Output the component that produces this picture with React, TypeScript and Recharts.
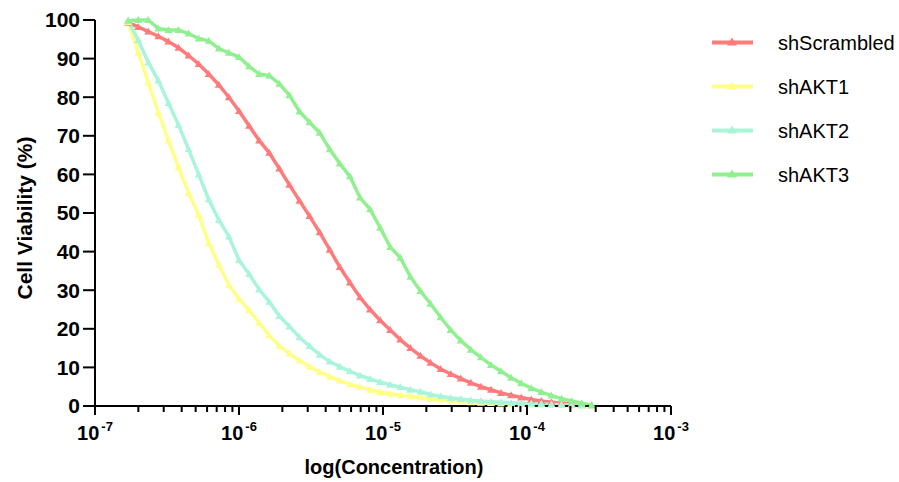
import React from 'react';
import { LineChart, Line, XAxis, YAxis } from 'recharts';

// log10(concentration, M)
const LOG_CONC = [
  -6.77, -6.70, -6.63, -6.56, -6.49, -6.42, -6.35, -6.28, -6.21, -6.14,
  -6.07, -6.00, -5.93, -5.86, -5.79, -5.72, -5.65, -5.58, -5.51, -5.44,
  -5.37, -5.30, -5.23, -5.16, -5.09, -5.02, -4.95, -4.88, -4.81, -4.74,
  -4.67, -4.60, -4.53, -4.46, -4.39, -4.32, -4.25, -4.18, -4.11, -4.04,
  -3.97, -3.90, -3.83, -3.76, -3.69, -3.62, -3.55,
];

const SH_SCRAMBLED = [
  99.3, 98.2, 97.0, 95.8, 94.4, 92.8, 90.8, 88.6, 86.0, 83.2,
  80.0, 76.4, 72.6, 68.8, 65.6, 61.5, 57.3, 53.2, 49.2, 45.0,
  40.5, 36.0, 32.0, 28.2, 25.0, 22.2, 19.7, 17.2, 15.0, 13.0,
  11.2, 9.6, 8.3, 7.1, 6.0, 5.0, 4.2, 3.4, 2.8, 2.2,
  1.7, 1.3, 1.0, 0.7, 0.5, 0.3, 0.1,
];

const SH_AKT1 = [
  99.5, 91.5, 83.8, 76.0, 68.8, 61.8, 55.2, 49.5, 42.2, 36.6,
  31.3, 27.8, 24.8, 21.5, 18.3, 15.6, 13.6, 11.8, 10.2, 8.8,
  7.6, 6.6, 5.6, 4.9, 4.2, 3.6, 3.2, 2.8, 2.5, 2.2,
  1.9, 1.6, 1.4, 1.2, 1.0, 0.85, 0.75, 0.65, 0.55, 0.45,
  0.38, 0.3, 0.25, 0.2, 0.15, 0.1, 0.05,
];

const SH_AKT2 = [
  99.8, 94.8, 89.0, 84.3, 78.5, 72.8, 66.5, 60.0, 53.5, 48.2,
  43.9, 37.8, 34.2, 30.2, 27.0, 23.3, 20.6, 17.8, 15.5, 13.3,
  11.5, 10.2, 9.0, 7.9, 7.0, 6.2, 5.5, 4.9, 4.2, 3.7,
  3.0, 2.5, 2.1, 1.8, 1.5, 1.3, 1.1, 0.95, 0.8, 0.7,
  0.6, 0.5, 0.4, 0.3, 0.2, 0.15, 0.1,
];

const SH_AKT3 = [
  99.8, 100, 100, 97.8, 97.4, 97.4, 96.5, 95.2, 94.6, 92.6,
  91.5, 90.4, 88.0, 86.0, 85.6, 83.5, 80.5, 76.3, 73.5, 70.8,
  66.5, 62.8, 59.5, 54.0, 51.0, 46.2, 41.2, 38.4, 33.5, 29.8,
  26.5, 23.0, 19.7, 17.0, 14.6, 12.6, 10.6, 9.0, 7.3, 5.9,
  4.6, 3.6, 2.7, 1.9, 1.3, 0.7, 0.2,
];

const SERIES = [
  { key: 'shScrambled', values: SH_SCRAMBLED, color: '#FF7B7B' },
  { key: 'shAKT1', values: SH_AKT1, color: '#FFFF88' },
  { key: 'shAKT2', values: SH_AKT2, color: '#AAF5DA' },
  { key: 'shAKT3', values: SH_AKT3, color: '#90F090' },
];

const Y_TICKS = [0, 10, 20, 30, 40, 50, 60, 70, 80, 90, 100];
const X_MAJOR = [-7, -6, -5, -4, -3];
const MINOR_STEPS = [2, 3, 4, 5, 6, 7, 8, 9];

const X_TICKS = [
  ...X_MAJOR,
  ...X_MAJOR.slice(0, -1).flatMap(n => MINOR_STEPS.map(k => n + Math.log10(k))),
].sort((a, b) => a - b);

const data = LOG_CONC.map((x, i) => {
  const row: any = { x };
  SERIES.forEach(s => { row[s.key] = s.values[i]; });
  return row;
});

const FONT = '"Liberation Sans", Arial, sans-serif';

const XTick = (props: any) => {
  const { x, y, payload } = props;
  const v = payload.value;
  const major = X_MAJOR.includes(v);
  return (
    <g>
      <line x1={x} x2={x} y1={y} y2={y + (major ? 9 : 6)} stroke="#000" strokeWidth={2} />
      {major && (
        <text x={x} y={y + 34} textAnchor="middle" fontFamily={FONT} fontWeight="bold" fontSize={20} fill="#000">
          10
          <tspan dx={2} dy={-9} fontSize={13}>{String(v)}</tspan>
        </text>
      )}
    </g>
  );
};

const triangle = (color: string) => (props: any) => {
  const { cx, cy, index } = props;
  if (cx == null || cy == null) return <g key={`n-${index}`} />;
  return (
    <polygon
      key={`t-${color}-${index}`}
      points={`${cx},${cy - 4} ${cx - 4},${cy + 3} ${cx + 4},${cy + 3}`}
      fill={color}
    />
  );
};

const YTitle = (props: any) => {
  const { viewBox } = props;
  const cx = viewBox.x + 9;
  const cy = viewBox.y + viewBox.height / 2 + 5;
  return (
    <text
      x={cx}
      y={cy}
      transform={`rotate(-90 ${cx} ${cy})`}
      textAnchor="middle"
      dominantBaseline="central"
      fontFamily={FONT}
      fontWeight="bold"
      fontSize={21}
      fill="#000"
    >
      Cell Viability (%)
    </text>
  );
};

const XTitle = (props: any) => {
  const { viewBox } = props;
  const cx = viewBox.x + viewBox.width / 2 + 11;
  return (
    <text x={cx} y={474} textAnchor="middle" fontFamily={FONT} fontWeight="bold" fontSize={20} fill="#000">
      log(Concentration)
    </text>
  );
};

const App: React.FC = () => {
  return (
    <div style={{ position: 'absolute', left: 0, top: 0, width: 899, height: 482, background: '#fff' }}>
      <LineChart width={899} height={482} data={data} margin={{ top: 20, right: 228, bottom: 36, left: 15 }}>
        <XAxis
          type="number"
          dataKey="x"
          domain={[-7, -3]}
          ticks={X_TICKS}
          interval={0}
          tick={<XTick />}
          tickLine={false}
          tickSize={0}
          tickMargin={0}
          axisLine={{ stroke: '#000', strokeWidth: 2 }}
          height={40}
          allowDataOverflow
          label={<XTitle />}
        />
        <YAxis
          type="number"
          domain={[0, 100]}
          ticks={Y_TICKS}
          interval={0}
          width={80}
          tickSize={12}
          tickMargin={3}
          axisLine={{ stroke: '#000', strokeWidth: 2 }}
          tickLine={{ stroke: '#000', strokeWidth: 2 }}
          tick={{ fontFamily: FONT, fontWeight: 'bold', fontSize: 21, fill: '#000' }}
          label={<YTitle />}
        />
        {SERIES.map(s => (
          <Line
            key={s.key}
            type="linear"
            dataKey={s.key}
            name={s.key}
            stroke={s.color}
            strokeWidth={3.5}
            dot={triangle(s.color)}
            activeDot={false}
            isAnimationActive={false}
          />
        ))}
      </LineChart>
      <svg width={200} height={180} style={{ position: 'absolute', left: 700, top: 20 }}>
        {SERIES.map((s, i) => {
          const cy = 22.5 + i * 44;
          return (
            <g key={s.key}>
              <line x1={12} x2={53} y1={cy} y2={cy} stroke={s.color} strokeWidth={4} />
              <polygon points={`32,${cy - 5} 27,${cy + 3} 37,${cy + 3}`} fill={s.color} />
              <text x={78} y={cy} dominantBaseline="central" fontFamily={FONT} fontSize={20} fill="#000">
                {s.key}
              </text>
            </g>
          );
        })}
      </svg>
    </div>
  );
};

export default App;
